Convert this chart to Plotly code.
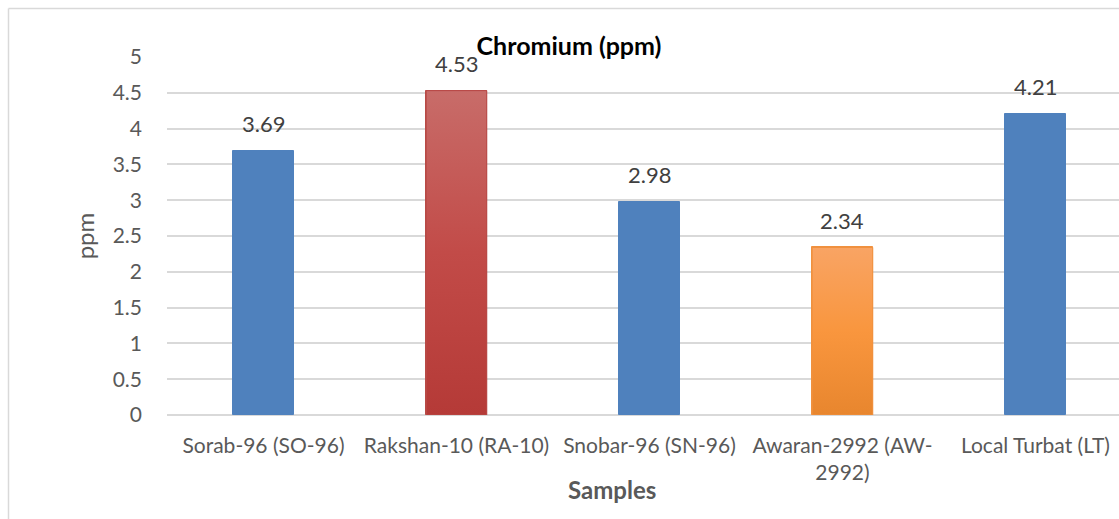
import plotly.graph_objects as go

categories = ["Sorab-96 (SO-96)", "Rakshan-10 (RA-10)", "Snobar-96 (SN-96)",
              "Awaran-2992 (AW-<br>2992)", "Local Turbat (LT)"]
values = [3.69, 4.53, 2.98, 2.34, 4.21]
value_labels = ["3.69", "4.53", "2.98", "2.34", "4.21"]
bar_colors = ["#4F81BD", "#C0504D", "#4F81BD", "#F79646", "#4F81BD"]
line_colors = ["#4F81BD", "#B84A47", "#4F81BD", "#F0913F", "#4F81BD"]
# vertical gradients (bottom, middle, top) for highlighted bars; None = solid
gradients = [None, ["#B53A37", "#C24B48", "#C86C69"], None,
             ["#E8862E", "#F9963E", "#F9A464"], None]
y_ticks = [0, 0.5, 1, 1.5, 2, 2.5, 3, 3.5, 4, 4.5, 5]
y_tick_text = ["0", "0.5", "1", "1.5", "2", "2.5", "3", "3.5", "4", "4.5", "5"]

FONT = "Lato, Open Sans, sans-serif"
W, H = 1119, 519
L, R, T, B = 167, 0, 57, 104
pw = W - L - R
ph = H - T - B
BAR_W = 0.314

fig = go.Figure()
fig.add_trace(go.Bar(
    x=list(range(len(categories))), y=values,
    width=BAR_W,
    marker=dict(color=bar_colors, line=dict(color=line_colors, width=1)),
    cliponaxis=False, hoverinfo="x+y",
))

# gradient overlays for highlighted bars (derived from the data values)
for i, (v, g) in enumerate(zip(values, gradients)):
    if g is None:
        continue
    x0, x1 = i - BAR_W / 2, i + BAR_W / 2
    fig.add_trace(go.Scatter(
        x=[x0, x1, x1, x0, x0], y=[0, 0, v, v, 0],
        mode="lines", fill="toself",
        line=dict(color=line_colors[i], width=1),
        fillgradient=dict(type="vertical", colorscale=[[0, g[0]], [0.5, g[1]], [1, g[2]]]),
        hoverinfo="skip", showlegend=False,
    ))

def px2paper_x(px):
    return (px - L) / pw

def px2paper_y(py):
    return (H - B - py) / ph

annotations = []
for i, (v, t) in enumerate(zip(values, value_labels)):
    annotations.append(dict(
        x=i, y=v, xref="x", yref="y", text=t, showarrow=False,
        yanchor="middle", yshift=27,
        font=dict(family=FONT, size=22, color="#404040"),
    ))
annotations.append(dict(
    x=px2paper_x(612), y=px2paper_y(489), xref="paper", yref="paper",
    text="<b>Samples</b>", showarrow=False, xanchor="center", yanchor="middle",
    font=dict(family=FONT, size=24, color="#595959"),
))

fig.update_layout(
    width=W, height=H,
    margin=dict(l=L, r=R, t=T, b=B, pad=0),
    paper_bgcolor="white", plot_bgcolor="white",
    showlegend=False,
    bargap=0,
    font=dict(family=FONT, size=21, color="#595959"),
    title=dict(text="<b>Chromium (ppm)</b>", x=px2paper_x(569), xref="paper",
               xanchor="center", y=1 - 46 / H, yanchor="middle",
               font=dict(family=FONT, size=25, color="#000000")),
    xaxis=dict(
        range=[-0.5, 4.433],
        tickmode="array", tickvals=list(range(len(categories))), ticktext=categories,
        showgrid=False, zeroline=False, showline=False, ticks="",
        ticklabelstandoff=16,
        tickfont=dict(family=FONT, size=21, color="#595959"),
    ),
    yaxis=dict(
        range=[0, 5],
        tickmode="array", tickvals=y_ticks, ticktext=y_tick_text,
        showgrid=True, gridcolor="#D9D9D9", gridwidth=1.5,
        zeroline=True, zerolinecolor="#D9D9D9", zerolinewidth=1.5,
        showline=False, ticks="", ticklabelstandoff=24,
        tickfont=dict(family=FONT, size=21, color="#595959"),
        title=dict(text="ppm", font=dict(family=FONT, size=24, color="#595959"), standoff=11),
    ),
    annotations=annotations,
    shapes=[
        dict(type="line", xref="paper", yref="paper",
             x0=px2paper_x(8.5), x1=px2paper_x(1125), y0=px2paper_y(8.5), y1=px2paper_y(8.5),
             line=dict(color="#D9D9D9", width=1.5)),
        dict(type="line", xref="paper", yref="paper",
             x0=px2paper_x(8.5), x1=px2paper_x(8.5), y0=px2paper_y(8.5), y1=px2paper_y(525),
             line=dict(color="#D9D9D9", width=1.5)),
    ],
)

fig.write_html("out.html")
